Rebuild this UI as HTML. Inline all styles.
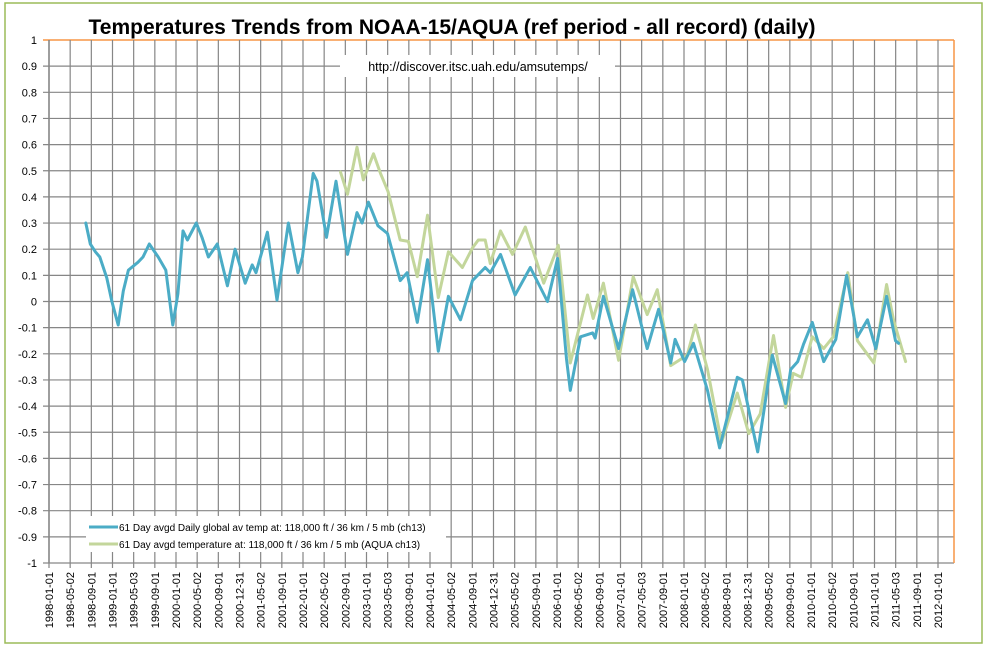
<!DOCTYPE html>
<html><head><meta charset="utf-8"><style>
body{margin:0;background:#fff;}
svg{display:block;font-family:"Liberation Sans",sans-serif;}
</style></head><body>
<svg width="988" height="649">
<rect x="5" y="3" width="977" height="640" fill="#fff" stroke="#9bbb59" stroke-width="1.5"/>
<text x="452" y="34" font-size="21" font-weight="bold" text-anchor="middle" fill="#000">Temperatures Trends from NOAA-15/AQUA (ref period - all record) (daily)</text>
<g id="grid"></g>
<g id="series"></g>
<rect x="340" y="55" width="275" height="22" fill="#fff"/>
<text x="478" y="71" font-size="12.5" text-anchor="middle" fill="#000">http://discover.itsc.uah.edu/amsutemps/</text>
<g>
<rect x="86" y="516" width="360" height="36" fill="#fff"/>
<g>
<line x1="89" y1="527" x2="118" y2="527" stroke="#4bacc6" stroke-width="3"/>
<text x="119" y="531" font-size="10" fill="#000">61 Day avgd Daily global av temp at: 118,000 ft / 36 km / 5 mb (ch13)</text></g>
<g>
<line x1="89" y1="544" x2="118" y2="544" stroke="#c3d69b" stroke-width="3"/>
<text x="119" y="548" font-size="10" fill="#000">61 Day avgd temperature at: 118,000 ft / 36 km / 5 mb (AQUA ch13)</text></g>
</g>
</svg>
<script>
const xTickLabels=["1998-01-01","1998-05-02","1998-09-01","1999-01-01","1999-05-03","1999-09-01","2000-01-01","2000-05-02","2000-09-01","2000-12-31","2001-05-02","2001-09-01","2002-01-01","2002-05-02","2002-09-01","2003-01-01","2003-05-03","2003-09-01","2004-01-01","2004-05-02","2004-09-01","2004-12-31","2005-05-02","2005-09-01","2006-01-01","2006-05-02","2006-09-01","2007-01-01","2007-05-03","2007-09-01","2008-01-01","2008-05-02","2008-09-01","2008-12-31","2009-05-02","2009-09-01","2010-01-01","2010-05-02","2010-09-01","2011-01-01","2011-05-03","2011-09-01","2012-01-01"];
const yTicks=[1,0.9,0.8,0.7,0.6,0.5,0.4,0.3,0.2,0.1,0,-0.1,-0.2,-0.3,-0.4,-0.5,-0.6,-0.7,-0.8,-0.9,-1];
const noaaYears=[1998.58,1998.65,1998.73,1998.80,1998.91,1998.99,1999.09,1999.17,1999.25,1999.40,1999.48,1999.58,1999.72,1999.84,1999.95,2000.03,2000.11,2000.18,2000.32,2000.41,2000.51,2000.65,2000.81,2000.93,2001.09,2001.20,2001.26,2001.44,2001.59,2001.77,2001.92,2001.99,2002.16,2002.22,2002.37,2002.52,2002.70,2002.85,2002.93,2003.03,2003.18,2003.33,2003.53,2003.64,2003.80,2003.96,2004.13,2004.29,2004.48,2004.67,2004.87,2004.95,2005.11,2005.34,2005.58,2005.85,2006.01,2006.15,2006.21,2006.37,2006.56,2006.60,2006.73,2006.97,2007.19,2007.42,2007.60,2007.79,2007.86,2008.01,2008.15,2008.37,2008.56,2008.84,2008.92,2009.16,2009.39,2009.60,2009.68,2009.79,2009.88,2010.02,2010.20,2010.39,2010.56,2010.73,2010.89,2011.02,2011.19,2011.33,2011.38];
const noaaValues=[0.30,0.22,0.19,0.17,0.09,0.00,-0.09,0.04,0.12,0.15,0.17,0.22,0.17,0.12,-0.09,0.03,0.27,0.235,0.30,0.245,0.17,0.22,0.06,0.20,0.07,0.14,0.11,0.265,0.005,0.30,0.11,0.17,0.49,0.46,0.245,0.46,0.18,0.34,0.30,0.38,0.29,0.26,0.08,0.11,-0.08,0.16,-0.19,0.02,-0.07,0.08,0.13,0.11,0.18,0.025,0.13,0.00,0.165,-0.22,-0.34,-0.135,-0.12,-0.14,0.02,-0.18,0.045,-0.18,-0.03,-0.235,-0.145,-0.23,-0.16,-0.34,-0.56,-0.29,-0.30,-0.575,-0.205,-0.39,-0.26,-0.23,-0.165,-0.08,-0.23,-0.145,0.10,-0.135,-0.07,-0.18,0.02,-0.15,-0.16];
const aquaYears=[2002.59,2002.70,2002.85,2002.95,2003.11,2003.22,2003.34,2003.53,2003.66,2003.80,2003.96,2004.13,2004.29,2004.51,2004.67,2004.76,2004.87,2004.95,2005.11,2005.30,2005.50,2005.79,2006.02,2006.21,2006.48,2006.57,2006.73,2006.97,2007.20,2007.42,2007.58,2007.79,2008.05,2008.18,2008.37,2008.59,2008.84,2009.02,2009.20,2009.41,2009.60,2009.72,2009.85,2010.02,2010.20,2010.35,2010.58,2010.73,2010.99,2011.19,2011.30,2011.49];
const aquaValues=[0.495,0.41,0.59,0.465,0.565,0.49,0.42,0.235,0.23,0.095,0.33,0.015,0.19,0.13,0.205,0.235,0.235,0.145,0.27,0.18,0.285,0.07,0.215,-0.235,0.025,-0.065,0.07,-0.225,0.095,-0.05,0.045,-0.245,-0.205,-0.09,-0.26,-0.54,-0.35,-0.505,-0.43,-0.13,-0.405,-0.275,-0.29,-0.135,-0.18,-0.135,0.11,-0.15,-0.235,0.065,-0.07,-0.23];

const L=49,R=954,T=40,B=563,x0=1998,pxPerYear=(938-49)/14;
function xs(y){return L+(y-x0)*pxPerYear;}
function ys(v){return T+(1-v)/2*(B-T);}
const NS="http://www.w3.org/2000/svg";
const grid=document.getElementById('grid');
function mk(tag,attrs,parent){const e=document.createElementNS(NS,tag);for(const k in attrs)e.setAttribute(k,attrs[k]);parent.appendChild(e);return e;}
yTicks.forEach(v=>{
  const ln=mk('line',{x1:43,x2:R,y1:ys(v),y2:ys(v),stroke:v===1?'#f79646':'#868686','stroke-width':v===1?1.5:1.2},grid);
  
  
  const t=mk('text',{x:37,y:ys(v)+4,'font-size':11,'text-anchor':'end',fill:'#000'},grid);
  t.textContent=String(v);
  
  
});
xTickLabels.forEach((lab,i)=>{
  const x=L+i*(938-49)/42;
  const ln=mk('line',{x1:x,x2:x,y1:T,y2:B+5,stroke:'#868686','stroke-width':1.2},grid);
  
  
  const t=mk('text',{x:0,y:0,'font-size':11,'text-anchor':'end',fill:'#000',transform:`translate(${x+4},${B+9}) rotate(-90)`},grid);
  t.textContent=lab;
  
  
});
const rb=mk('line',{x1:R,x2:R,y1:T,y2:B,stroke:'#f79646','stroke-width':1.5},grid);


const ax=mk('line',{x1:L,x2:L,y1:T,y2:B,stroke:'#868686','stroke-width':1.5},grid);


const sg=document.getElementById('series');
function line(years,vals,color,name){
  const d=years.map((y,i)=>(i?'L':'M')+xs(y).toFixed(1)+','+ys(vals[i]).toFixed(1)).join('');
  const p=mk('path',{d:d,fill:'none',stroke:color,'stroke-width':3,'stroke-linejoin':'round','stroke-linecap':'round'},sg);
  
  
}
line(aquaYears,aquaValues,'#c3d69b','aqua-series-line');
line(noaaYears,noaaValues,'#4bacc6','noaa15-series-line');
</script>
</body></html>
